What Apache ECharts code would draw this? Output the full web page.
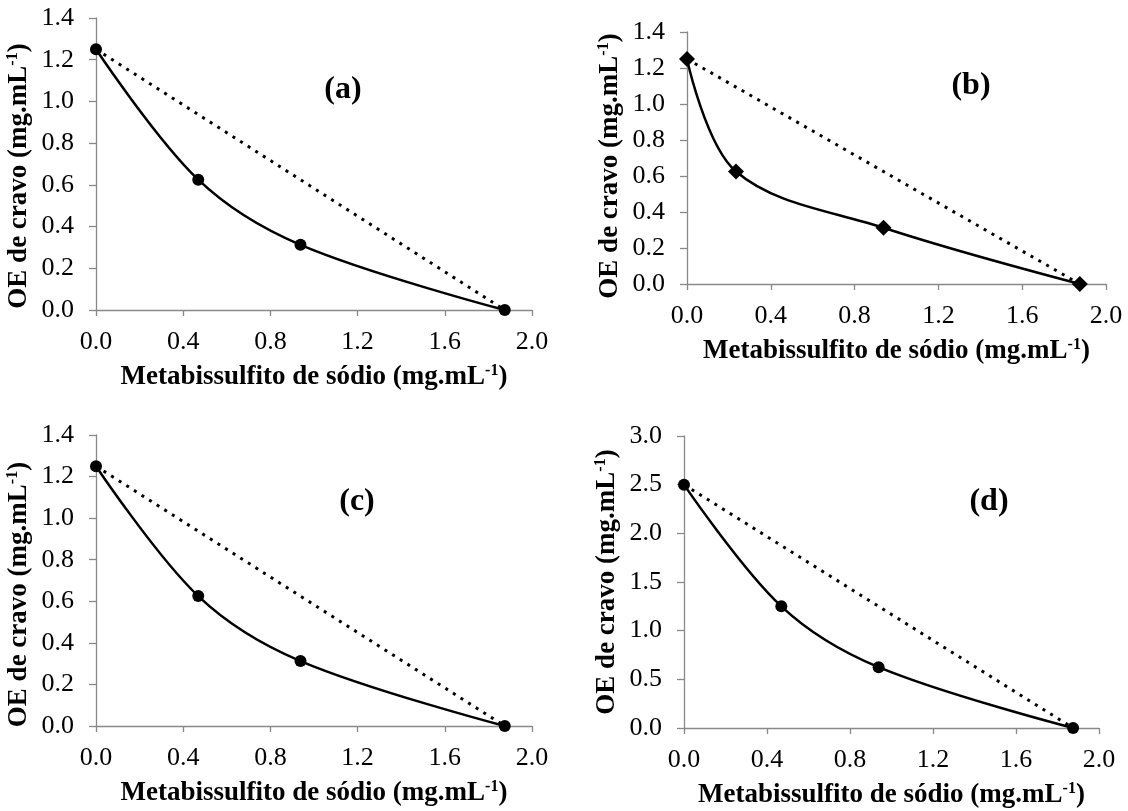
<!DOCTYPE html>
<html>
<head>
<meta charset="utf-8">
<script src="https://cdn.jsdelivr.net/npm/echarts@6/dist/echarts.min.js"></script>
<style>
  html, body { margin: 0; padding: 0; background: #fff; }
  #chart { width: 1128px; height: 811px; }
</style>
</head>
<body>
<div id="chart"></div>
<script>
// valores
const xMeta = [0, 0.469, 0.938, 1.875];      // (a), (c), (d)
const xMetaB = [0, 0.234, 0.938, 1.875];     // (b)
const yOeA = [1.25, 0.625, 0.3125, 0];
const yOeB = [1.25, 0.625, 0.3125, 0];
const yOeC = [1.25, 0.625, 0.3125, 0];
const yOeD = [2.5, 1.25, 0.625, 0];
const panelLabels = ["(a)", "(b)", "(c)", "(d)"];
const yMaxs = [1.4, 1.4, 1.4, 3.0];
const yIntervals = [0.2, 0.2, 0.2, 0.5];

const FONT = "Liberation Serif";
const AXIS_COLOR = "#898989";

const panels = [
  { x: xMeta, y: yOeA, symbol: "circle", size: 12, yShift: 24,
    grid: { left: 96, top: 18, width: 436, height: 292 }, label: [343, 90] },
  { x: xMetaB, y: yOeB, symbol: "diamond", size: 16, yShift: 16,
    grid: { left: 687, top: 32, width: 419, height: 252 }, label: [971, 86] },
  { x: xMeta, y: yOeC, symbol: "circle", size: 12, yShift: 28,
    grid: { left: 96, top: 435, width: 436, height: 291 }, label: [357, 502] },
  { x: xMeta, y: yOeD, symbol: "circle", size: 12, yShift: 0,
    grid: { left: 684, top: 436, width: 415, height: 292 }, label: [989, 502] }
];

const nameRich = {
  n: { fontFamily: FONT, fontWeight: "bold", fontSize: 27, color: "#000" },
  s: { fontFamily: FONT, fontWeight: "bold", fontSize: 16, color: "#000", padding: [0, 0, 13, 0] }
};

const chart = echarts.init(document.getElementById("chart"));

const grids = [], xAxes = [], yAxes = [], series = [], graphics = [];
panels.forEach(function (p, i) {
  grids.push(Object.assign({ containLabel: false }, p.grid));
  xAxes.push({
    type: "value",
    gridIndex: i,
    min: 0,
    max: 2,
    interval: 0.4,
    name: "{n|Metabissulfito de sódio (mg.mL}{s|-1}{n|)}",
    nameLocation: "middle",
    nameGap: 53,
    nameTextStyle: { rich: nameRich },
    axisLine: { lineStyle: { color: AXIS_COLOR, width: 1.3 } },
    axisTick: { show: true, inside: false, length: 6, lineStyle: { color: AXIS_COLOR, width: 1.3 } },
    axisLabel: {
      margin: 19,
      color: "#000",
      fontFamily: FONT,
      fontSize: 26,
      formatter: function (v) { return v.toFixed(1); }
    },
    splitLine: { show: false }
  });
  yAxes.push({
    type: "value",
    gridIndex: i,
    min: 0,
    max: yMaxs[i],
    interval: yIntervals[i],
    name: "{n|OE de cravo (mg.mL}{s|-1}{n|)}",
    nameLocation: "middle",
    nameRotate: 90,
    nameGap: 62,
    nameTextStyle: { rich: nameRich, padding: [0, p.yShift, 0, 0] },
    axisLine: { show: true, lineStyle: { color: AXIS_COLOR, width: 1.3 } },
    axisTick: { show: true, inside: false, length: 7, lineStyle: { color: AXIS_COLOR, width: 1.3 } },
    axisLabel: {
      margin: 22,
      color: "#000",
      fontFamily: FONT,
      fontSize: 26,
      formatter: function (v) { return v.toFixed(1); }
    },
    splitLine: { show: false }
  });
  const pts = p.x.map(function (xv, k) { return [xv, p.y[k]]; });
  // reta pontilhada entre os extremos
  series.push({
    type: "line",
    xAxisIndex: i,
    yAxisIndex: i,
    data: [pts[0], pts[pts.length - 1]],
    showSymbol: false,
    symbol: "none",
    silent: true,
    lineStyle: { color: "#000", width: 3, type: [3, 6] },
    z: 2
  });
  // curva suavizada com marcadores
  series.push({
    type: "line",
    xAxisIndex: i,
    yAxisIndex: i,
    data: pts,
    smooth: 0.35,
    symbol: p.symbol,
    symbolSize: p.size,
    itemStyle: { color: "#000" },
    lineStyle: { color: "#000", width: 2.5 },
    z: 3
  });
  graphics.push({
    type: "text",
    x: p.label[0],
    y: p.label[1],
    style: {
      text: panelLabels[i],
      fontFamily: FONT,
      fontWeight: "bold",
      fontSize: 32,
      fill: "#000",
      align: "center",
      verticalAlign: "middle"
    }
  });
});

chart.setOption({
  animation: false,
  backgroundColor: "#fff",
  grid: grids,
  xAxis: xAxes,
  yAxis: yAxes,
  series: series,
  graphic: graphics
});
</script>
</body>
</html>
